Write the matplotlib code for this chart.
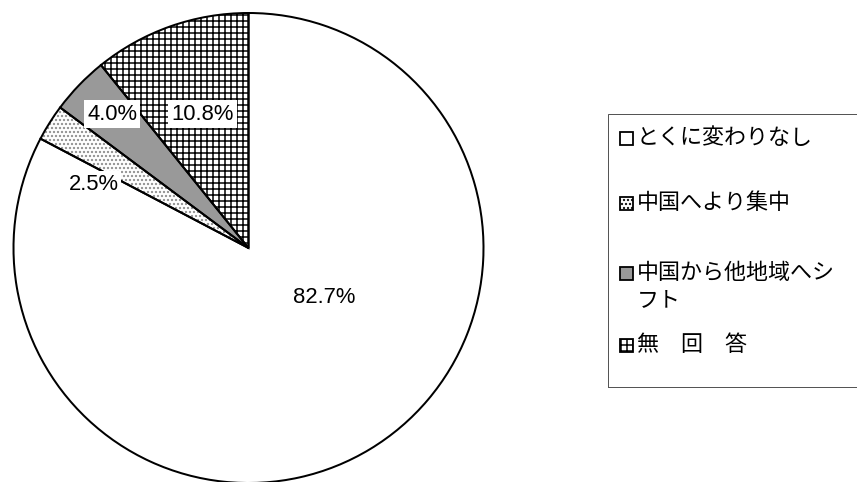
import matplotlib
matplotlib.use('Agg')
import matplotlib.pyplot as plt
from matplotlib.patches import Rectangle
from matplotlib import font_manager

# ---- data ----
categories = ['とくに変わりなし', '中国へより集中', '中国から他地域へシフト', '無　回　答']
values = [82.7, 2.5, 4.0, 10.8]
pct_labels = ['82.7%', '2.5%', '4.0%', '10.8%']

# ---- styles ----
face_colors = ['white', 'white', '#999999', 'white']
hatches = [None, '...', None, '++']
hatch_colors = ['white', '#8a8a8a', '#999999', 'black']
label_pos = [(0.32, -0.21), (-0.66, 0.27), (-0.58, 0.57), (-0.196, 0.57)]

W, H = 857, 482
plt.rcParams['hatch.linewidth'] = 1.5
names = {f.name for f in font_manager.fontManager.ttflist}
if 'Liberation Sans Narrow' in names:
    pct_family, pct_size = 'Liberation Sans Narrow', 25
else:
    pct_family, pct_size = 'Liberation Sans', 22
cjk = ['Noto Sans CJK JP', 'DejaVu Sans']

fig = plt.figure(figsize=(W / 72, H / 72), dpi=72)
fig.patch.set_facecolor('white')

cx, cy, r = 248.5, 248, 235
ax = fig.add_axes([(cx - r) / W, (H - cy - r) / H, 2 * r / W, 2 * r / H])

wedges, texts, autotexts = ax.pie(values, startangle=90, counterclock=False,
                                  colors=face_colors, autopct='%1.1f%%')
for w, h, hc in zip(wedges, hatches, hatch_colors):
    if h:
        w.set_hatch(h)
    w.set_edgecolor(hc)
    w.set_linewidth(0)

ax.pie(values, startangle=90, counterclock=False,
       wedgeprops=dict(fill=False, edgecolor='black', linewidth=2))

for t, pos, lab in zip(autotexts, label_pos, pct_labels):
    t.set_text(lab)
    t.set_position(pos)
    t.set_fontsize(pct_size)
    t.set_family(pct_family)
    t.set_color('black')
    t.set_ha('center')
    t.set_va('center')
    t.set_bbox(dict(facecolor='white', edgecolor='none', pad=3))
    t.set_zorder(10)

ax.set_xlim(-1, 1)
ax.set_ylim(-1, 1)
ax.set_aspect('equal')
ax.axis('off')


def fx(x):
    return x / W


def fy(y):
    return 1 - y / H


# legend frame
fig.add_artist(Rectangle((fx(608), fy(387)), (870 - 608) / W, (387 - 114) / H,
                         transform=fig.transFigure, facecolor='none',
                         edgecolor='#555555', linewidth=1))

rows_y = [138, 203, 273, 345]
line_texts = [categories[0], categories[1], categories[2][:9], categories[3]]
for i, (yy, txt) in enumerate(zip(rows_y, line_texts)):
    sq = 13
    fig.add_artist(Rectangle((fx(620), fy(yy + sq / 2)), sq / W, sq / H,
                             transform=fig.transFigure,
                             facecolor=face_colors[i], edgecolor='black',
                             linewidth=1.8, hatch=hatches[i]))
    fig.text(fx(637), fy(yy), txt, ha='left', va='center', fontsize=22,
             family=cjk, color='black')
fig.text(fx(637), fy(300), categories[2][9:], ha='left', va='center',
         fontsize=22, family=cjk, color='black')

fig.savefig('out.png', dpi=72, facecolor='white')
